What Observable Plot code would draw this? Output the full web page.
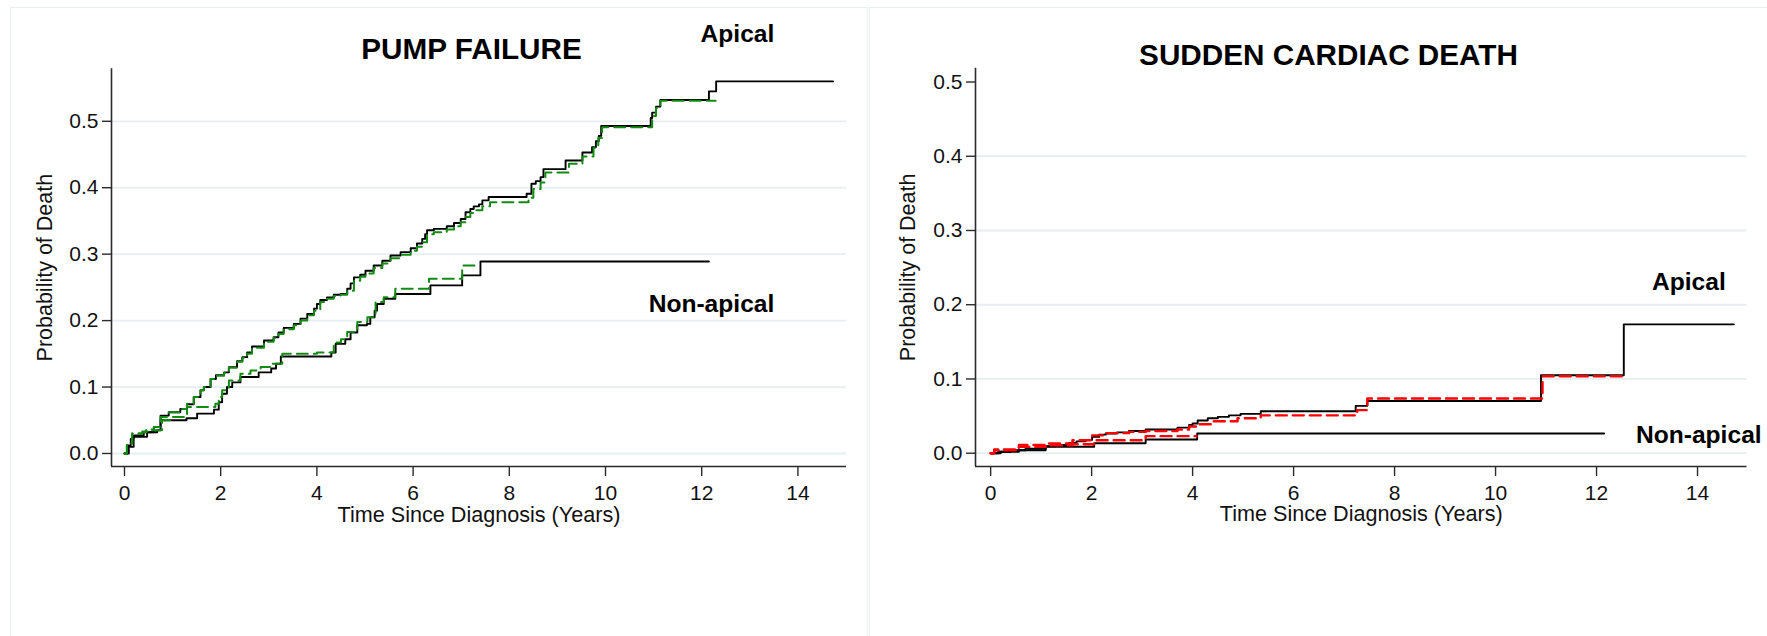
<!DOCTYPE html>
<html><head><meta charset="utf-8">
<script src="https://cdn.jsdelivr.net/npm/d3@7"></script>
<script src="https://cdn.jsdelivr.net/npm/@observablehq/plot@0.6"></script>
<style>
html,body{margin:0;padding:0;background:#fff;}
body{width:1767px;height:636px;position:relative;overflow:hidden;font-family:"Liberation Sans",Arial,Helvetica,sans-serif;}
.panel{position:absolute;border:1.5px solid #e8eef1;box-sizing:border-box;}
#p1{left:9.5px;top:6.5px;width:858px;height:700px;}
#p2{left:869px;top:6.5px;width:1000px;height:700px;}
.chart{position:absolute;top:0;}
#c1{left:0px;} #c2{left:880px;}
svg{overflow:visible;}
</style></head><body>
<div class="panel" id="p1"></div><div class="panel" id="p2"></div>
<div class="chart" id="c1"></div><div class="chart" id="c2"></div>
<script>
// ---------- data (time in years, cumulative probability of death) ----------
const xTicks = [0, 2, 4, 6, 8, 10, 12, 14];
const pumpYTicks = [0, 0.1, 0.2, 0.3, 0.4, 0.5];
const scdYTicks = [0, 0.1, 0.2, 0.3, 0.4, 0.5];
const scdGridTicks = [0, 0.1, 0.2, 0.3, 0.4];
const panelTitles = ["PUMP FAILURE", "SUDDEN CARDIAC DEATH"];
const xTitle = "Time Since Diagnosis (Years)";
const yTitle = "Probability of Death";
const groupLabels = ["Apical", "Non-apical"];
const pumpLabelPos = [[13.51, 0.62], [13.51, 0.213]];
const scdLabelPos = [[14.56, 0.22], [15.27, 0.0135]];

const pumpApicalObserved = [[0,0],[0.06,0.012],[0.13,0.022],[0.19,0.027],[0.4,0.032],[0.61,0.04],[0.75,0.057],[0.92,0.062],[1.16,0.067],[1.3,0.074],[1.44,0.085],[1.58,0.095],[1.65,0.1],[1.79,0.112],[1.9,0.118],[2.07,0.122],[2.17,0.13],[2.34,0.139],[2.45,0.145],[2.55,0.152],[2.65,0.161],[2.9,0.17],[3.1,0.175],[3.2,0.182],[3.31,0.189],[3.52,0.195],[3.66,0.203],[3.8,0.21],[3.94,0.218],[4.0,0.225],[4.07,0.231],[4.21,0.235],[4.35,0.239],[4.49,0.24],[4.63,0.248],[4.7,0.256],[4.77,0.265],[4.9,0.269],[5.01,0.275],[5.18,0.283],[5.36,0.29],[5.53,0.298],[5.74,0.303],[5.95,0.309],[6.08,0.316],[6.19,0.323],[6.25,0.33],[6.29,0.336],[6.43,0.338],[6.7,0.342],[6.85,0.347],[6.99,0.353],[7.09,0.363],[7.19,0.368],[7.26,0.372],[7.37,0.375],[7.44,0.381],[7.57,0.386],[8.36,0.391],[8.46,0.406],[8.55,0.41],[8.65,0.416],[8.71,0.428],[9.17,0.441],[9.52,0.453],[9.72,0.461],[9.8,0.47],[9.86,0.478],[9.91,0.493],[10.94,0.505],[10.97,0.513],[11.05,0.522],[11.14,0.532],[12.15,0.545],[12.3,0.56],[14.73,0.56]];
const pumpApicalModel = [[0,0],[0.05,0.015],[0.16,0.03],[0.37,0.032],[0.45,0.036],[0.61,0.04],[0.75,0.055],[0.92,0.062],[1.16,0.067],[1.3,0.075],[1.44,0.085],[1.58,0.095],[1.65,0.1],[1.79,0.112],[1.9,0.117],[2.07,0.121],[2.17,0.129],[2.34,0.138],[2.45,0.144],[2.55,0.15],[2.65,0.159],[2.9,0.168],[3.1,0.174],[3.2,0.18],[3.31,0.187],[3.52,0.193],[3.66,0.2],[3.8,0.208],[3.94,0.215],[4.07,0.228],[4.21,0.233],[4.35,0.237],[4.49,0.239],[4.63,0.245],[4.77,0.26],[4.9,0.266],[5.01,0.271],[5.18,0.279],[5.36,0.286],[5.53,0.294],[5.74,0.299],[5.95,0.305],[6.08,0.311],[6.19,0.318],[6.29,0.33],[6.43,0.333],[6.7,0.337],[6.85,0.342],[6.99,0.348],[7.09,0.356],[7.19,0.362],[7.3,0.366],[7.44,0.372],[7.6,0.378],[8.4,0.385],[8.5,0.398],[8.65,0.408],[8.75,0.423],[9.24,0.436],[9.52,0.447],[9.75,0.46],[9.85,0.475],[9.93,0.491],[10.97,0.508],[11.05,0.52],[11.14,0.531],[12.29,0.531]];
const pumpNonApicalObserved = [[0,0],[0.09,0.01],[0.19,0.025],[0.47,0.032],[0.68,0.035],[0.75,0.05],[1.29,0.053],[1.51,0.06],[1.86,0.066],[1.96,0.077],[2.03,0.09],[2.13,0.1],[2.24,0.107],[2.41,0.115],[2.79,0.122],[3.05,0.128],[3.15,0.135],[3.25,0.146],[4.3,0.152],[4.39,0.165],[4.59,0.172],[4.7,0.182],[4.84,0.193],[5.04,0.195],[5.11,0.205],[5.2,0.215],[5.25,0.225],[5.39,0.233],[5.63,0.24],[6.36,0.253],[7.02,0.268],[7.4,0.289],[12.15,0.289]];
const pumpNonApicalModel = [[0,0],[0.05,0.015],[0.16,0.03],[0.37,0.033],[0.5,0.035],[0.78,0.05],[1.0,0.055],[1.3,0.07],[1.89,0.075],[1.96,0.085],[2.03,0.095],[2.17,0.11],[2.41,0.12],[2.62,0.125],[2.83,0.13],[3.04,0.135],[3.28,0.15],[4.0,0.152],[4.35,0.167],[4.5,0.172],[4.63,0.183],[4.84,0.198],[5.05,0.205],[5.22,0.228],[5.39,0.235],[5.63,0.248],[6.33,0.263],[7.02,0.283],[7.37,0.283]];

const scdApicalObserved = [[0,0],[0.15,0.002],[0.4,0.004],[0.69,0.006],[1.09,0.0094],[1.3,0.011],[1.55,0.0139],[1.7,0.016],[1.88,0.018],[2.01,0.022],[2.15,0.025],[2.28,0.0265],[2.5,0.028],[2.74,0.03],[3.07,0.032],[3.7,0.0345],[3.93,0.038],[4.0,0.04],[4.1,0.044],[4.3,0.047],[4.5,0.049],[4.72,0.051],[4.95,0.053],[5.35,0.0565],[7.23,0.0637],[7.46,0.0704],[10.9,0.105],[12.54,0.1736],[14.72,0.1736]];
const scdApicalModel = [[0,0],[0.07,0.005],[0.56,0.011],[1.09,0.013],[1.62,0.0175],[2.01,0.024],[2.28,0.027],[2.74,0.0287],[3.07,0.03],[3.7,0.032],[3.93,0.036],[4.13,0.039],[4.42,0.043],[4.89,0.047],[5.35,0.051],[7.26,0.058],[7.46,0.0736],[10.93,0.1036],[12.53,0.1036]];
const scdNonApicalObserved = [[0,0],[0.2,0.002],[0.56,0.004],[1.09,0.0088],[2.05,0.0135],[3.07,0.0185],[4.09,0.0265],[12.15,0.0265]];
const scdNonApicalModel = [[0,0],[0.07,0.004],[0.56,0.0085],[1.09,0.0105],[1.62,0.012],[2.05,0.0175],[3.07,0.023],[4.08,0.023]];

// ---------- drawing ----------
const FONT = '"Liberation Sans", Arial, Helvetica, sans-serif';

function panel(cfg) {
  const lineMarks = [];
  for (const s of cfg.observed) lineMarks.push(Plot.line(s, {x: d => d[0], y: d => d[1], curve: "step-after", stroke: "#000", strokeWidth: 1.9}));
  for (const s of cfg.model) lineMarks.push(Plot.line(s, {x: d => d[0], y: d => d[1], curve: "step-after", stroke: cfg.modelColor, strokeWidth: cfg.modelWidth, strokeDasharray: "11,6"}));
  return Plot.plot({
    width: cfg.width, height: 600,
    marginLeft: cfg.ml, marginRight: cfg.mr, marginTop: cfg.mt, marginBottom: 134,
    style: {fontFamily: FONT, fontSize: "21px", background: "transparent", color: "#111", overflow: "visible"},
    x: {domain: cfg.xd},
    y: {domain: cfg.yd},
    marks: [
      Plot.gridY(cfg.grid, {stroke: "#e6eef1", strokeOpacity: 1, strokeWidth: 1.8}),
      Plot.ruleX([cfg.xd[0]], {stroke: "#2b2b2b", strokeWidth: 1.6}),
      Plot.ruleY([cfg.yd[0]], {stroke: "#2b2b2b", strokeWidth: 1.6}),
      Plot.axisY(cfg.yticks, {tickSize: 9, tickPadding: 4, tickFormat: d => d.toFixed(1), label: null, fontSize: 21, stroke: "#2b2b2b", strokeWidth: 1.4, fill: "#111"}),
      Plot.axisX(xTicks, {tickSize: 10, tickPadding: 8.5, tickFormat: d => String(d), label: null, fontSize: 21, stroke: "#2b2b2b", strokeWidth: 1.4, fill: "#111"}),
      ...lineMarks,
      Plot.text([cfg.title], {text: d => d, frameAnchor: "top", dx: cfg.titleDx, dy: cfg.titleDy, lineAnchor: "bottom", fontWeight: "bold", fontSize: 29.7, fill: "#000"}),
      Plot.text([yTitle], {text: d => d, frameAnchor: "left", dx: cfg.yTitleDx, rotate: -90, lineAnchor: "bottom", textAnchor: "middle", fontSize: 21.5, fill: "#111"}),
      Plot.text([xTitle], {text: d => d, frameAnchor: "bottom", dy: cfg.xTitleDy, lineAnchor: "bottom", textAnchor: "middle", fontSize: 21.6, fill: "#111"}),
      Plot.text(groupLabels, {text: d => d, x: (d, i) => cfg.labelPos[i][0], y: (d, i) => cfg.labelPos[i][1], textAnchor: "end", lineAnchor: "bottom", fontWeight: "bold", fontSize: 24.6, fill: "#000"})
    ]
  });
}

document.getElementById("c1").append(panel({
  width: 866, ml: 111, mr: 20, mt: 68.3,
  xd: [-0.27, 15.01], yd: [-0.0196, 0.579],
  grid: pumpYTicks, yticks: pumpYTicks,
  observed: [pumpApicalObserved, pumpNonApicalObserved],
  model: [pumpApicalModel, pumpNonApicalModel],
  modelColor: "#138a13", modelWidth: 2,
  title: panelTitles[0], titleDx: -7.5, titleDy: -9.5,
  yTitleDx: -59.5, xTitleDy: 55,
  labelPos: pumpLabelPos
}));

document.getElementById("c2").append(panel({
  width: 887, ml: 95, mr: 20.5, mt: 67.7,
  xd: [-0.30, 14.98], yd: [-0.0179, 0.5186],
  grid: scdGridTicks, yticks: scdYTicks,
  observed: [scdApicalObserved, scdNonApicalObserved],
  model: [scdApicalModel, scdNonApicalModel],
  modelColor: "#ff0000", modelWidth: 2.4,
  title: panelTitles[1], titleDx: -32.75, titleDy: -3.7,
  yTitleDx: -61, xTitleDy: 54,
  labelPos: scdLabelPos
}));
</script>
</body></html>
